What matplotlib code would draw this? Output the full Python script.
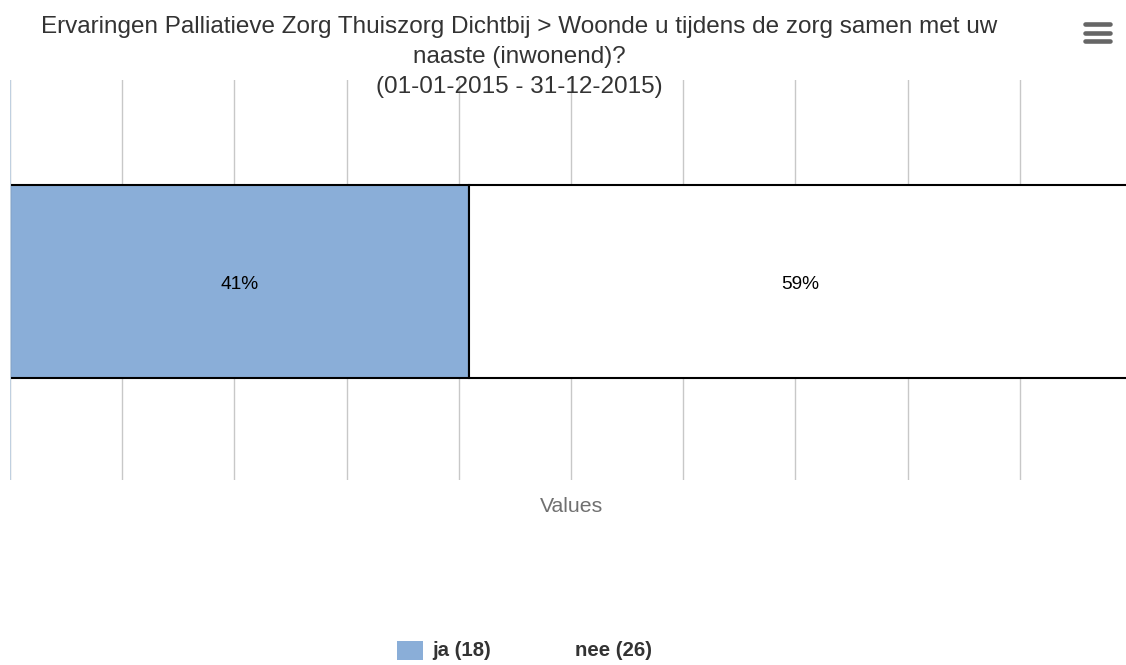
import matplotlib
matplotlib.use("Agg")
import matplotlib.pyplot as plt
from matplotlib.patches import Rectangle
from matplotlib.lines import Line2D

# ---- data ----
categories = ["Values"]
series_names = ["ja", "nee"]
series_counts = [18, 26]
series_colors = ["#8aaed8", "#ffffff"]
title_lines = [
    "Ervaringen Palliatieve Zorg Thuiszorg Dichtbij > Woonde u tijdens de zorg samen met uw",
    "naaste (inwonend)?",
    "(01-01-2015 - 31-12-2015)",
]
x_ticks = list(range(0, 101, 10))

plt.rcParams['font.family'] = ['Liberation Sans', 'DejaVu Sans']

W, H = 1126, 665
fig = plt.figure(figsize=(W / 100, H / 100), dpi=100)
fig.patch.set_facecolor("white")

def fx(px):
    return px / W

def fy(py):
    return 1 - py / H

# axes spanning x 10..1132, y 80..480 px
ax = fig.add_axes([fx(10), fy(480), 1122 / W, 400 / H])
ax.set_xlim(0, 100)
ax.set_ylim(-0.496, 0.504)
for s in ax.spines.values():
    s.set_visible(False)
ax.set_xticks(x_ticks)
ax.set_yticks([])
ax.tick_params(axis="x", length=0, labelbottom=False)
ax.grid(axis="x", color="#c8c8c8", linewidth=1.0, zorder=0)
ax.set_axisbelow(True)

total = sum(series_counts)
pcts = [c / total * 100 for c in series_counts]
left = 0
for name, p, col in zip(series_names, pcts, series_colors):
    ax.barh(0, p, left=left, height=0.4825, color=col, edgecolor="#000000",
            linewidth=1.5, zorder=2)
    ax.text(left + p / 2, -0.008, f"{p:.0f}%", ha="center", va="center",
            fontsize=13.8, color="#000000", zorder=4)
    left += p

# left axis line on top
ax.axvline(0, color="#c0d0e0", linewidth=1.5, zorder=5)

# category axis title
fig.text(fx(572), fy(511.5), categories[0], ha="center", va="baseline",
         fontsize=15.3, color="#707070")

# title
title_base = [33, 63, 93]
for line, yy in zip(title_lines, title_base):
    fig.text(fx(519), fy(yy), line, ha="center", va="baseline",
             fontsize=17.5, color="#333333", zorder=10)

# legend
legend_items_x = [397, 545]
for name, cnt, col, lx in zip(series_names, series_counts, series_colors, legend_items_x):
    fig.patches.append(Rectangle((fx(lx), fy(660)), 26 / W, 19 / H,
                                 transform=fig.transFigure, facecolor=col,
                                 edgecolor="none"))
    fig.text(fx(432 if name == "ja" else 575), fy(656), f"{name} ({cnt})",
             ha="left", va="baseline", fontsize=14.7, fontweight="bold",
             color="#333333")

# menu icon
for yy in [24, 32.5, 41]:
    fig.lines.append(Line2D([fx(1085), fx(1110)], [fy(yy), fy(yy)],
                            transform=fig.transFigure, color="#666666",
                            linewidth=3.3, solid_capstyle="round"))

fig.savefig("out.png", dpi=100, facecolor="white")
